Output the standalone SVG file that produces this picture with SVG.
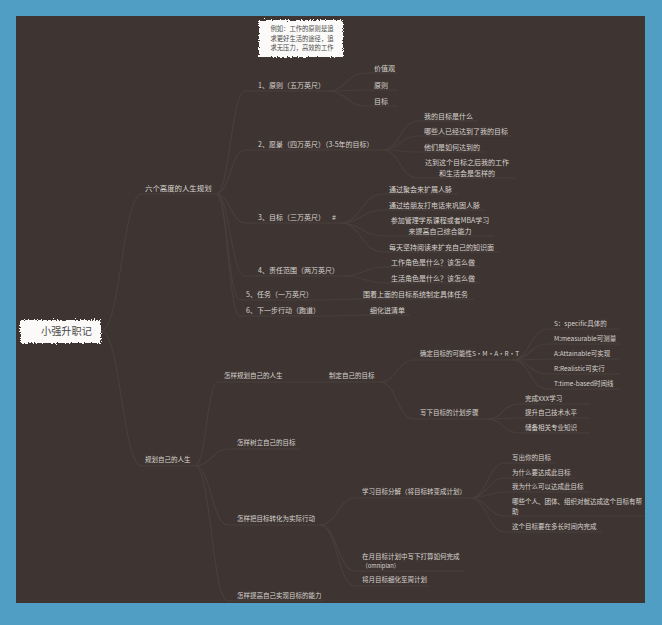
<svg xmlns="http://www.w3.org/2000/svg" width="662" height="625" viewBox="0 0 662 625">
<defs>
<filter id="rough" x="-10%" y="-20%" width="120%" height="140%">
<feTurbulence type="fractalNoise" baseFrequency="0.7" numOctaves="2" seed="3"/>
<feDisplacementMap in="SourceGraphic" scale="5" xChannelSelector="R" yChannelSelector="G"/>
</filter>
<style>
.t{font-family:"Noto Sans CJK SC","Noto Sans",sans-serif;fill:#d8d3cf;}
.a{font-size:7px;}
.b{font-size:6.5px;}
.ul{stroke:#483f3c;stroke-width:1;fill:none;}
.c{stroke:#483f3c;stroke-width:1.2;fill:none;}
.box{fill:#fbfaf9;filter:url(#rough);}
.dk{font-family:"Noto Sans CJK SC","Noto Sans",sans-serif;fill:#4a4a4a;}
</style>
</defs>
<rect x="0" y="0" width="662" height="625" fill="#519ec5"/>
<rect x="16" y="16" width="629" height="587" fill="#3e3532"/>

<g id="connectors">
<path class="c" d="M101,331 C121,331 122,194 142,194"/>
<path class="c" d="M101,331 C121,331 122,466 142,466"/>
<path class="c" d="M216,194 C230,194 231,91 245,91"/>
<path class="c" d="M216,194 C230,194 231,150 245,150"/>
<path class="c" d="M216,194 C230,194 231,223 245,223"/>
<path class="c" d="M216,194 C230,194 231,276 245,276"/>
<path class="c" d="M216,194 C228,194 228,300 240,300"/>
<path class="c" d="M216,194 C228,194 228,316 240,316"/>
<path class="c" d="M328,91 C346,91 347,73 365,73"/>
<path class="c" d="M328,91 C346,91 347,90 365,90"/>
<path class="c" d="M328,91 C346,91 347,106 365,106"/>
<path class="c" d="M382,150 C400,150 400,121 418,121"/>
<path class="c" d="M382,150 C400,150 400,136 418,136"/>
<path class="c" d="M382,150 C400,150 400,152 418,152"/>
<path class="c" d="M382,150 C400,150 400,178 418,178"/>
<path class="c" d="M340,223 C361,223 362,194 383,194"/>
<path class="c" d="M340,223 C361,223 362,210 383,210"/>
<path class="c" d="M340,223 C361,223 362,236 383,236"/>
<path class="c" d="M340,223 C361,223 362,252 383,252"/>
<path class="c" d="M343,276 C364,276 364,267 385,267"/>
<path class="c" d="M343,276 C364,276 364,283 385,283"/>
<path class="c" d="M318,300 C337,300 338,299 357,299"/>
<path class="c" d="M325,316 C344,316 345,315 364,315"/>
<path class="c" d="M195,466 C206,466 207,382 218,382"/>
<path class="c" d="M195,466 C211,466 212,449 228,449"/>
<path class="c" d="M195,466 C211,466 212,525 228,525"/>
<path class="c" d="M195,466 C211,466 212,601 228,601"/>
<path class="c" d="M290,382 L322,382"/>
<path class="c" d="M380,382 C397,382 397,360 414,360"/>
<path class="c" d="M380,382 C397,382 397,419 414,419"/>
<path class="c" d="M512,360 C530,360 530,329 548,329"/>
<path class="c" d="M512,360 C530,360 530,344 548,344"/>
<path class="c" d="M512,360 C530,360 530,359 548,359"/>
<path class="c" d="M512,360 C530,360 530,374 548,374"/>
<path class="c" d="M512,360 C530,360 530,389 548,389"/>
<path class="c" d="M487,419 C503,419 503,404 519,404"/>
<path class="c" d="M487,419 C503,419 503,418 519,418"/>
<path class="c" d="M487,419 C503,419 503,433 519,433"/>
<path class="c" d="M320,525 C337,525 338,498 355,498"/>
<path class="c" d="M320,525 C337,525 338,571 355,571"/>
<path class="c" d="M320,525 C337,525 338,586 355,586"/>
<path class="c" d="M470,498 C487,498 488,463 505,463"/>
<path class="c" d="M470,498 C487,498 488,478 505,478"/>
<path class="c" d="M470,498 C487,498 488,492 505,492"/>
<path class="c" d="M470,498 C487,498 488,516 505,516"/>
<path class="c" d="M470,498 C487,498 488,532 505,532"/>
</g>

<g id="note">
<rect class="box" x="259" y="20" width="84" height="37"/>
<text class="dk" font-size="6.3" text-anchor="middle"><tspan x="302" y="31">例如：工作的原则是追</tspan><tspan x="302" y="41">求更好生活的途径，追</tspan><tspan x="302" y="50">求无压力，高效的工作</tspan></text>
</g>

<g id="root">
<rect class="box" x="20" y="320" width="81" height="23"/>
<text class="dk" x="41" y="335" font-size="10.2">小强升职记</text>
</g>

<g id="n-six"><line class="ul" x1="142" y1="194" x2="216" y2="194"/><text class="t" x="145" y="190.5" font-size="7.4">六个高度的人生规划</text></g>
<g id="n-1"><line class="ul" x1="245" y1="91" x2="328" y2="91"/><text class="t a" x="258" y="87.5">1、原则（五万英尺）</text></g>
<g id="n-1a"><line class="ul" x1="365" y1="73" x2="398" y2="73"/><text class="t a" x="374" y="70.5">价值观</text></g>
<g id="n-1b"><line class="ul" x1="365" y1="90" x2="398" y2="90"/><text class="t a" x="374" y="87.5">原则</text></g>
<g id="n-1c"><line class="ul" x1="365" y1="106" x2="398" y2="106"/><text class="t a" x="374" y="103.5">目标</text></g>

<g id="n-2"><line class="ul" x1="245" y1="150" x2="382" y2="150"/><text class="t a" x="258" y="146.5">2、愿景（四万英尺）（3-5年的目标）</text></g>
<g id="n-2a"><line class="ul" x1="418" y1="121" x2="478" y2="121"/><text class="t a" x="424" y="118.5">我的目标是什么</text></g>
<g id="n-2b"><line class="ul" x1="418" y1="136" x2="514" y2="136"/><text class="t a" x="424" y="133.5">哪些人已经达到了我的目标</text></g>
<g id="n-2c"><line class="ul" x1="418" y1="152" x2="486" y2="152"/><text class="t a" x="424" y="149.5">他们是如何达到的</text></g>
<g id="n-2d"><line class="ul" x1="418" y1="178" x2="515" y2="178"/><text class="t a" text-anchor="middle"><tspan x="467" y="164.5">达到这个目标之后我的工作</tspan><tspan x="467" y="175.5">和生活会是怎样的</tspan></text></g>

<g id="n-3"><line class="ul" x1="245" y1="223" x2="340" y2="223"/><text class="t a" x="258" y="219.5">3、目标（三万英尺）</text><text class="t a" x="332" y="219.5">#</text></g>
<g id="n-3a"><line class="ul" x1="383" y1="194" x2="458" y2="194"/><text class="t a" x="389" y="191.5">通过聚会来扩展人脉</text></g>
<g id="n-3b"><line class="ul" x1="383" y1="210" x2="486" y2="210"/><text class="t a" x="389" y="207.5">通过给朋友打电话来巩固人脉</text></g>
<g id="n-3c"><line class="ul" x1="383" y1="236" x2="494" y2="236"/><text class="t a" text-anchor="middle"><tspan x="440" y="222.5">参加管理学系课程或者MBA学习</tspan><tspan x="440" y="233.5">来提高自己综合能力</tspan></text></g>
<g id="n-3d"><line class="ul" x1="383" y1="252" x2="500" y2="252"/><text class="t a" x="389" y="249.5">每天坚持阅读来扩充自己的知识面</text></g>

<g id="n-4"><line class="ul" x1="245" y1="276" x2="343" y2="276"/><text class="t a" x="258" y="272.5">4、责任范围（两万英尺）</text></g>
<g id="n-4a"><line class="ul" x1="385" y1="267" x2="481" y2="267"/><text class="t a" x="391" y="264.5">工作角色是什么？该怎么做</text></g>
<g id="n-4b"><line class="ul" x1="385" y1="283" x2="481" y2="283"/><text class="t a" x="391" y="280.5">生活角色是什么？该怎么做</text></g>

<g id="n-5"><line class="ul" x1="240" y1="300" x2="318" y2="300"/><text class="t a" x="246" y="296.5">5、任务（一万英尺）</text></g>
<g id="n-5a"><line class="ul" x1="357" y1="299" x2="474" y2="299"/><text class="t a" x="363" y="296.5">围着上面的目标系统制定具体任务</text></g>
<g id="n-6"><line class="ul" x1="240" y1="316" x2="325" y2="316"/><text class="t a" x="246" y="312.5">6、下一步行动（跑道）</text></g>
<g id="n-6a"><line class="ul" x1="364" y1="315" x2="410" y2="315"/><text class="t a" x="370" y="312.5">细化进清单</text></g>

<g id="n-plan"><line class="ul" x1="142" y1="466" x2="195" y2="466"/><text class="t b" x="145" y="462.3">规划自己的人生</text></g>
<g id="n-b1"><line class="ul" x1="218" y1="382" x2="290" y2="382"/><text class="t b" x="224" y="378.3">怎样规划自己的人生</text></g>
<g id="n-b1a"><line class="ul" x1="322" y1="382" x2="380" y2="382"/><text class="t b" x="329" y="378.3">制定自己的目标</text></g>
<g id="n-smart"><line class="ul" x1="414" y1="360" x2="512" y2="360"/><text class="t b" x="420" y="356.3">确定目标的可能性S·M·A·R·T</text></g>
<g id="n-s"><line class="ul" x1="548" y1="329" x2="620" y2="329"/><text class="t b" x="554" y="326.3">S：specific具体的</text></g>
<g id="n-m"><line class="ul" x1="548" y1="344" x2="620" y2="344"/><text class="t b" x="554" y="341.3">M:measurable可测量</text></g>
<g id="n-a"><line class="ul" x1="548" y1="359" x2="620" y2="359"/><text class="t b" x="554" y="356.3">A:Attainable可实现</text></g>
<g id="n-r"><line class="ul" x1="548" y1="374" x2="620" y2="374"/><text class="t b" x="554" y="371.3">R:Realistic可实行</text></g>
<g id="n-t"><line class="ul" x1="548" y1="389" x2="620" y2="389"/><text class="t b" x="554" y="386.3">T:time-based时间线</text></g>
<g id="n-steps"><line class="ul" x1="414" y1="419" x2="487" y2="419"/><text class="t b" x="420" y="415.3">写下目标的计划步骤</text></g>
<g id="n-st1"><line class="ul" x1="519" y1="404" x2="590" y2="404"/><text class="t b" x="525" y="401.3">完成XXX学习</text></g>
<g id="n-st2"><line class="ul" x1="519" y1="418" x2="590" y2="418"/><text class="t b" x="525" y="415.3">提升自己技术水平</text></g>
<g id="n-st3"><line class="ul" x1="519" y1="433" x2="590" y2="433"/><text class="t b" x="525" y="430.3">储备相关专业知识</text></g>

<g id="n-b2"><line class="ul" x1="228" y1="449" x2="300" y2="449"/><text class="t b" x="237" y="445.3">怎样树立自己的目标</text></g>
<g id="n-b3"><line class="ul" x1="228" y1="525" x2="320" y2="525"/><text class="t b" x="237" y="521.3">怎样把目标转化为实际行动</text></g>
<g id="n-b3a"><line class="ul" x1="355" y1="498" x2="470" y2="498"/><text class="t b" x="362" y="494.3">学习目标分解（将目标转变成计划）</text></g>
<g id="n-q1"><line class="ul" x1="505" y1="463" x2="556" y2="463"/><text class="t b" x="512" y="460.3">写出你的目标</text></g>
<g id="n-q2"><line class="ul" x1="505" y1="478" x2="575" y2="478"/><text class="t b" x="512" y="475.3">为什么要达成此目标</text></g>
<g id="n-q3"><line class="ul" x1="505" y1="492" x2="590" y2="492"/><text class="t b" x="512" y="489.3">我为什么可以达成此目标</text></g>
<g id="n-q4"><line class="ul" x1="505" y1="516" x2="645" y2="516"/><text class="t b"><tspan x="512" y="503.8">哪些个人、团体、组织对就达成这个目标有帮</tspan><tspan x="512" y="513.8">助</tspan></text></g>
<g id="n-q5"><line class="ul" x1="505" y1="532" x2="602" y2="532"/><text class="t b" x="512" y="529.3">这个目标要在多长时间内完成</text></g>
<g id="n-b3b"><line class="ul" x1="355" y1="571" x2="465" y2="571"/><text class="t b"><tspan x="362" y="558.8">在月目标计划中写下打算如何完成</tspan><tspan x="362" y="567.8" font-size="5.8">（omniplan）</tspan></text></g>
<g id="n-b3c"><line class="ul" x1="355" y1="586" x2="430" y2="586"/><text class="t b" x="362" y="582.3">将月目标细化至周计划</text></g>
<g id="n-b4"><line class="ul" x1="228" y1="601" x2="325" y2="601"/><text class="t b" x="237" y="597.8">怎样提高自己实现目标的能力</text></g>
</svg>
